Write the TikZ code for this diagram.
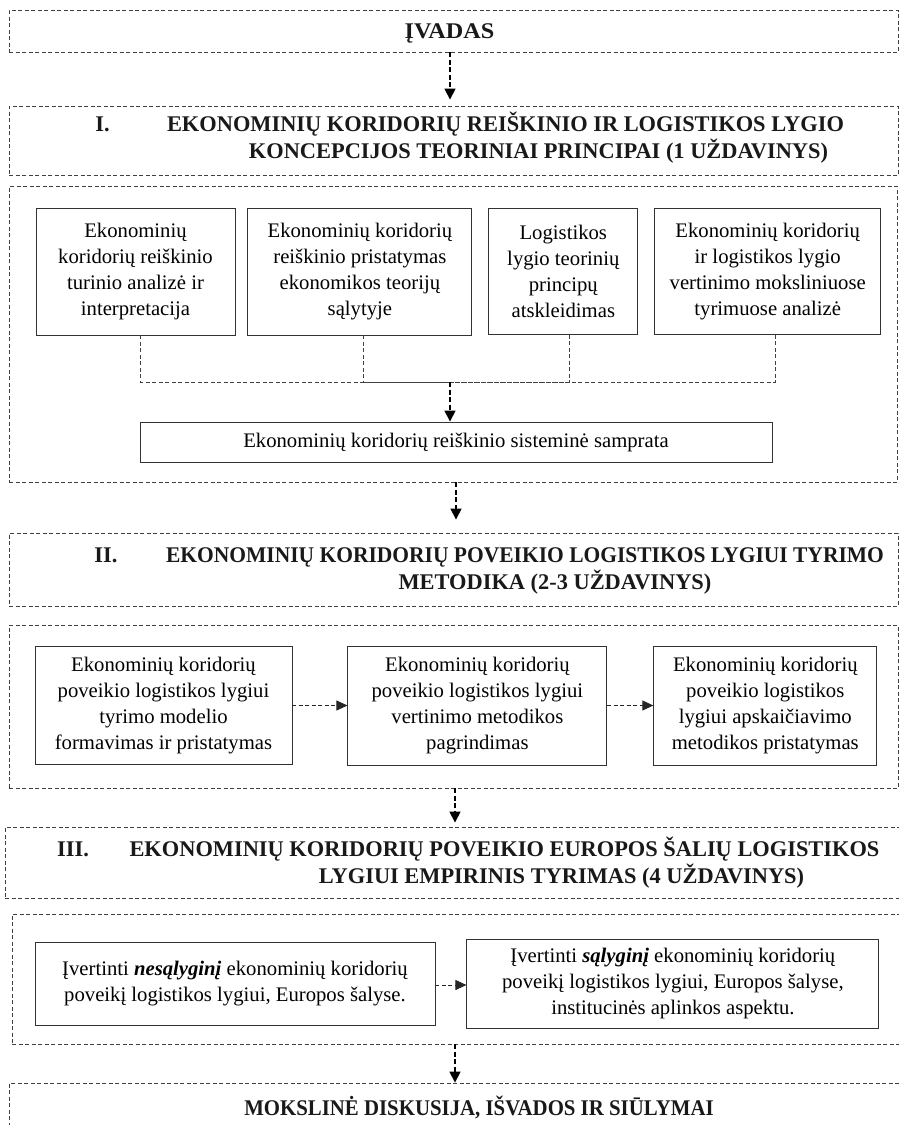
\documentclass[tikz,border=0pt]{standalone}
\usepackage{fontspec}
\setmainfont{Liberation Serif}
\usetikzlibrary{positioning}
\usetikzlibrary{arrows.meta}

\begin{document}
\begin{tikzpicture}[x=1pt, y=-1pt,
framednode/.style={rectangle, draw=black!80, line width=0.9pt, inner sep=0pt, align=center, font=\fontsize{20.7}{26}\selectfont},
dashednode/.style={rectangle, draw=black!75, line width=0.9pt, dash pattern=on 4pt off 2.5pt, inner sep=0pt},
headtext/.style={inner sep=0pt, anchor=base, text=black!90, font=\fontsize{22.4}{28}\bfseries\selectfont},
link/.style={draw=black!75, line width=0.9pt, dash pattern=on 4pt off 2.5pt},
flow/.style={black, line width=1.6pt, dash pattern=on 5pt off 2.5pt, -{Triangle[length=11pt,width=11pt]}},
sideflow/.style={black!85, line width=0.9pt, dash pattern=on 4pt off 2.5pt, -{Triangle[length=11pt,width=10pt]}},
]
\clip (0,0) rectangle (899,1125);

%Nodes
\node[dashednode, minimum width=889pt, minimum height=42pt] (intro) at (453.5,31) {};
\node[headtext] (introtext) at (449.5,38.5) {\scalebox{1.08}[1]{ĮVADAS}};

\node[dashednode, minimum width=889pt, minimum height=69pt] (sectionone) at (453.5,140.5) {};
\node[headtext] (sectiononeno) at (102.5,131) {I.};
\node[headtext] (sectiononea) at (505.5,131) {EKONOMINIŲ KORIDORIŲ REIŠKINIO IR LOGISTIKOS LYGIO};
\node[headtext] (sectiononeb) at (538.5,158) {KONCEPCIJOS TEORINIAI PRINCIPAI (1 UŽDAVINYS)};

\node[dashednode, minimum width=888pt, minimum height=296pt] (blockone) at (453,334) {};
\node[framednode, minimum width=199pt, minimum height=127pt] (analysis) at (135.5,271.5) {Ekonominių\\koridorių reiškinio\\turinio analizė ir\\interpretacija};
\node[framednode, minimum width=224pt, minimum height=127pt] (presentation) [right=12pt of analysis] {Ekonominių koridorių\\reiškinio pristatymas\\ekonomikos teorijų\\sąlytyje};
\node[framednode, minimum width=149pt, minimum height=126pt] (principles) [right=16pt of presentation] {Logistikos\\lygio teorinių\\principų\\atskleidimas};
\node[framednode, minimum width=226pt, minimum height=126pt] (evaluation) [right=16pt of principles] {Ekonominių koridorių\\ir logistikos lygio\\vertinimo moksliniuose\\tyrimuose analizė};
\node[framednode, minimum width=632pt, minimum height=40pt] (concept) at (456,442) {Ekonominių koridorių reiškinio sisteminė samprata};
\coordinate (junction) at (450,382);

\node[dashednode, minimum width=889pt, minimum height=73pt] (sectiontwo) at (453.5,569.5) {};
\node[headtext] (sectiontwono) at (106,562) {II.};
\node[headtext] (sectiontwoa) at (525,562) {\scalebox{0.96}[1]{EKONOMINIŲ KORIDORIŲ POVEIKIO LOGISTIKOS LYGIUI TYRIMO}};
\node[headtext] (sectiontwob) at (555,589) {METODIKA (2-3 UŽDAVINYS)};

\node[dashednode, minimum width=889pt, minimum height=163pt] (blocktwo) at (453.5,706.5) {};
\node[framednode, minimum width=257pt, minimum height=118pt] (modelling) at (163.5,705.5) {Ekonominių koridorių\\poveikio logistikos lygiui\\tyrimo modelio\\formavimas ir pristatymas};
\node[framednode, minimum width=259pt, minimum height=119pt] (methodology) [right=55pt of modelling] {Ekonominių koridorių\\poveikio logistikos lygiui\\vertinimo metodikos\\pagrindimas};
\node[framednode, minimum width=223pt, minimum height=119pt] (calculation) [right=46pt of methodology] {Ekonominių koridorių\\poveikio logistikos\\lygiui apskaičiavimo\\metodikos pristatymas};

\node[dashednode, minimum width=900pt, minimum height=71pt] (sectionthree) at (455,862.5) {};
\node[headtext] (sectionthreeno) at (73,856) {III.};
\node[headtext] (sectionthreea) at (504.5,856) {EKONOMINIŲ KORIDORIŲ POVEIKIO EUROPOS ŠALIŲ LOGISTIKOS};
\node[headtext] (sectionthreeb) at (561.5,883) {LYGIUI EMPIRINIS TYRIMAS (4 UŽDAVINYS)};

\node[dashednode, minimum width=893pt, minimum height=130pt] (blockthree) at (458.5,979) {};
\node[framednode, minimum width=400pt, minimum height=83pt] (unconditional) at (235,983.5) {Įvertinti \textbf{\textit{nesąlyginį}} ekonominių koridorių\\poveikį logistikos lygiui, Europos šalyse.};
\node[framednode, minimum width=412pt, minimum height=89pt] (conditional) [right=31pt of unconditional] {Įvertinti \textbf{\textit{sąlyginį}} ekonominių koridorių\\poveikį logistikos lygiui, Europos šalyse,\\institucinės aplinkos aspektu.};

\node[dashednode, minimum width=896pt, minimum height=60pt] (conclusions) at (457,1113) {};
\node[headtext] (conclusionstext) at (479,1115) {\scalebox{0.93}[1]{MOKSLINĖ DISKUSIJA, IŠVADOS IR SIŪLYMAI}};

%Lines
\draw[flow, shorten >=6pt] ([xshift=-3.5pt]intro.south) -- ([xshift=-3.5pt]sectionone.north);
\draw[link] ([xshift=5pt]analysis.south) |- (junction);
\draw[link] ([xshift=4pt]presentation.south) |- (junction);
\draw[link] ([xshift=6pt]principles.south) |- (junction);
\draw[link] ([xshift=8pt]evaluation.south) |- (junction);
\draw[flow] (junction) -- (junction |- concept.north);
\draw[flow, shorten >=13pt] (blockone.south -| concept.south) -- (sectiontwo.north -| concept.south);
\draw[sideflow] (modelling.east) -- (modelling.east -| methodology.west);
\draw[sideflow] (methodology.east) -- (methodology.east -| calculation.west);
\draw[flow, shorten >=4pt] (blocktwo.south -| sectionthree.north) -- (sectionthree.north);
\draw[sideflow] ([yshift=-1.5pt]unconditional.east) -- ([yshift=-1.5pt]unconditional.east -| conditional.west);
\draw[flow] (blockthree.south -| sectionthree.north) -- (conclusions.north -| sectionthree.north);

\end{tikzpicture}
\end{document}
